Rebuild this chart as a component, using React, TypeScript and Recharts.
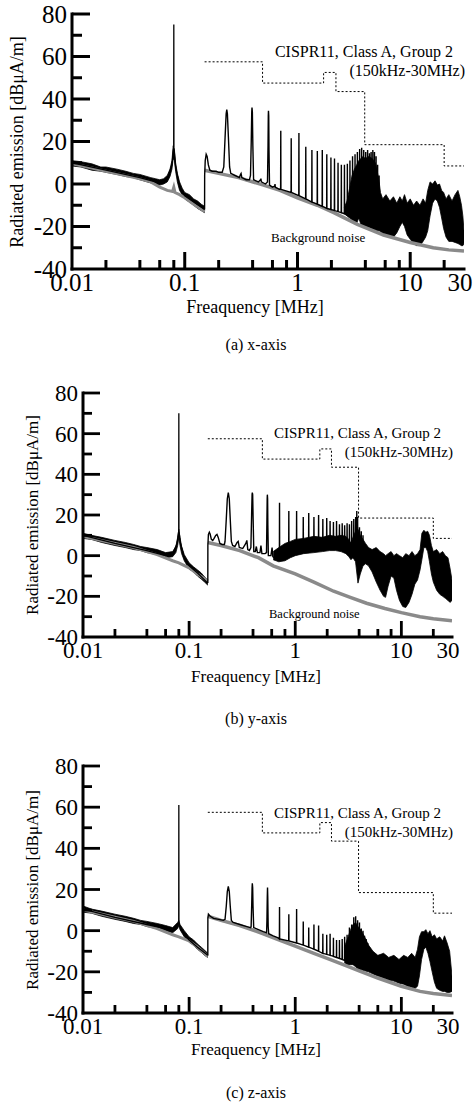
import React from 'react';
import { ComposedChart, Line, Area, XAxis, YAxis } from 'recharts';

type Pt = [number, number];
type Band = [number, number, number]; // f, low, high
type Spike = [number, number, number]; // f, base, peak

const FONT = "'Liberation Serif', 'Times New Roman', serif";

// ---------- (a) x-axis ----------
const xNoiseLow: Pt[] = [
  [0.01, 9.5], [0.015, 7.5], [0.02, 6], [0.03, 4], [0.04, 2.5], [0.05, 1], [0.06, -1.5],
  [0.07, -3], [0.078, -3.5], [0.08, -1.5], [0.082, -4], [0.09, -5], [0.1, -6.5], [0.12, -9.5], [0.15, -13],
];
const xNoiseHigh: Pt[] = [
  [0.15, 6.5], [0.2, 5], [0.3, 3], [0.5, -0.5], [0.7, -3], [1, -6.5], [1.5, -10], [2.1, -13.5],
  [3.4, -19], [5.8, -24], [10, -27.5], [16, -30], [22, -31], [30, -31.5],
];
const xLowBand: Band[] = [
  [0.01, 8.5, 11], [0.012, 8, 10.5], [0.015, 6.5, 9.5], [0.018, 6, 8], [0.02, 5.5, 8], [0.025, 4.5, 7],
  [0.03, 3.5, 6], [0.035, 3, 5], [0.04, 2, 4.5], [0.05, 0.5, 3], [0.055, 0, 2.5], [0.06, -0.5, 2],
  [0.065, 0, 2.5], [0.07, 1, 4], [0.074, 3.5, 7], [0.077, 7, 11], [0.079, 12, 18], [0.081, 11, 16],
  [0.083, 6, 10], [0.086, 1, 5], [0.09, -3, 1], [0.095, -5, -2], [0.1, -7, -4], [0.11, -8.5, -5],
  [0.12, -10, -7], [0.13, -11.5, -8], [0.14, -12.5, -9.5], [0.15, -13.5, -10.5],
];
const xLow: Pt[] = [
  [0.01, 10], [0.02, 6.5], [0.04, 3], [0.06, 0.5], [0.07, 2.5], [0.077, 9], [0.0798, 17], [0.08, 75],
  [0.0802, 17], [0.083, 8], [0.09, -1], [0.1, -5.5], [0.12, -8.5], [0.15, -12],
];
const xHigh: Pt[] = [
  [0.15, -12], [0.1502, 4], [0.152, 11], [0.155, 14], [0.158, 13], [0.162, 9], [0.167, 6.5], [0.175, 6],
  [0.19, 6], [0.2, 5.5], [0.215, 5.5], [0.222, 8], [0.228, 22], [0.233, 33], [0.236, 35], [0.239, 33],
  [0.244, 22], [0.25, 8], [0.256, 5], [0.28, 4], [0.305, 3], [0.312, 4.5], [0.316, 5], [0.321, 3],
  [0.35, 2], [0.375, 2], [0.383, 4], [0.389, 20], [0.393, 34], [0.395, 36], [0.398, 34], [0.402, 18],
  [0.408, 2], [0.45, 1], [0.47, 2], [0.474, 2.5], [0.478, 1], [0.52, 0], [0.542, 1], [0.548, 18],
  [0.551, 32], [0.553, 34.5], [0.556, 32], [0.559, 16], [0.565, -0.5], [0.6, -1.5], [0.628, -1],
  [0.632, 0], [0.636, -1.5], [0.69, -2.5],
];
const xSpikes: Spike[] = [
  [0.711, -2.5, 25], [0.88, -4, 21.5], [1.03, -5.5, 24], [1.185, -7, 17.5], [1.343, -8.5, 16],
  [1.5, -9.5, 15.5], [1.66, -10.5, 16], [1.82, -11.5, 14], [1.98, -12, 12.5], [2.13, -12.5, 12],
  [2.29, -13, 10], [2.45, -13.5, 9], [2.61, -14, 9], [2.77, -14.5, 9.5], [2.92, -15, 11], [3.08, -15.5, 13],
  [3.24, -16, 14], [3.4, -16, 15], [3.56, -16, 16.5], [3.71, -17, 17], [3.87, -17.5, 16], [4.03, -18, 15],
  [4.19, -18.5, 16], [4.35, -19, 14.5], [4.5, -19, 15], [4.66, -19.5, 16], [4.82, -20, 15], [4.98, -20, 13],
  [5.14, -20.5, 9], [5.3, -21, 4],
];
const xDense: Band[] = [
  [2.6, -14, -11], [2.75, -15, -8], [2.9, -16, -2], [3.05, -17, 4], [3.2, -18, 7], [3.35, -18.5, 9],
  [3.5, -16, 11], [3.65, -19, 12], [3.8, -19.5, 13], [4.0, -20, 12], [4.3, -20.5, 13], [4.6, -21, 12],
  [4.9, -21.5, 10], [5.1, -22, 6], [5.3, -22, 1], [5.45, -22.5, -4], [5.7, -23, -7], [6.1, -24, -5],
  [6.6, -24.5, -8], [7.1, -25, -6], [7.6, -23, -9], [8.1, -20, -6], [8.5, -18, -8], [8.9, -20, -5],
  [9.4, -24, -9], [10, -26, -7], [10.7, -28, -10], [11.4, -29, -8], [12.2, -29, -10], [13, -27, -7],
  [13.7, -25, -9], [14.3, -22, -3], [15, -15, 1], [15.8, -9, 0], [16.6, -7, 1.5], [17.4, -8, -0.5],
  [18.2, -11, 0], [19, -16, -3], [19.8, -21, -4], [20.8, -25, -7], [22, -27, -5], [23.5, -27, -8],
  [25, -27.5, -5], [26.5, -28, -3], [27.5, -28.5, -6], [28.5, -29, -10], [29.3, -29, -15], [30, -28, -22],
];

// ---------- (b) y-axis ----------
const yNoiseLow: Pt[] = [
  [0.01, 9.5], [0.02, 6], [0.03, 4], [0.05, 0.5], [0.07, -2.5], [0.08, -3.5], [0.1, -6], [0.12, -9], [0.15, -12.5],
];
const yNoiseHigh: Pt[] = [
  [0.15, 6.5], [0.2, 5], [0.3, 2.5], [0.45, -1], [0.62, -5], [1, -9], [1.5, -13], [2.3, -17.5],
  [3.3, -20.5], [4.7, -23.4], [7, -26], [10, -28], [15, -30], [20, -31], [30, -32],
];
const yLowBand: Band[] = [
  [0.01, 8.5, 11], [0.012, 8, 10], [0.015, 6.5, 9], [0.02, 5, 7.5], [0.025, 4, 6.5], [0.03, 3, 5.5],
  [0.035, 2.5, 4.5], [0.04, 1.5, 4], [0.05, 0.5, 3], [0.06, -1, 1.5], [0.07, -0.5, 2], [0.075, 1.5, 4.5],
  [0.078, 5, 9], [0.08, 9, 13], [0.082, 5, 9], [0.085, 1, 4.5], [0.09, -2.5, 0.5], [0.1, -6.5, -3.5],
  [0.11, -8, -5.5], [0.12, -10, -7], [0.13, -11.5, -8.5], [0.14, -13, -10.5], [0.15, -14.5, -12],
];
const yLow: Pt[] = [
  [0.01, 10], [0.02, 6], [0.04, 2.5], [0.06, 0], [0.07, 1], [0.077, 6], [0.0798, 12], [0.08, 70],
  [0.0802, 12], [0.083, 6], [0.09, -1], [0.1, -5], [0.12, -8.5], [0.15, -13.5],
];
const yHigh: Pt[] = [
  [0.15, -13.5], [0.1502, 5], [0.152, 10.5], [0.155, 11.5], [0.158, 10.5], [0.162, 8], [0.167, 7.5],
  [0.172, 8.5], [0.178, 10], [0.183, 10.5], [0.188, 9], [0.195, 6], [0.205, 5.5], [0.215, 5.5],
  [0.218, 7], [0.224, 18], [0.229, 28], [0.234, 31], [0.239, 28], [0.244, 18], [0.25, 7], [0.257, 5],
  [0.27, 4.5], [0.283, 6.5], [0.29, 7], [0.297, 4], [0.32, 3.5], [0.342, 6], [0.35, 7.5], [0.357, 3],
  [0.37, 2.5], [0.382, 4], [0.388, 20], [0.392, 30], [0.394, 31], [0.397, 30], [0.401, 18], [0.407, 2],
  [0.42, 2], [0.43, 4.5], [0.44, 1.5], [0.465, 1.5], [0.475, 5], [0.485, 1], [0.52, 1], [0.536, 1.5],
  [0.541, 18], [0.544, 28], [0.546, 30], [0.549, 28], [0.552, 15], [0.558, 0], [0.59, 0], [0.605, 4],
  [0.615, -0.5], [0.65, -1.5], [0.69, -2],
];
const ySpikes: Spike[] = [
  [0.711, 0, 26], [0.87, 4, 22], [1.03, 5, 22], [1.19, 6, 19], [1.34, 7, 21], [1.5, 7, 19],
  [1.66, 7.5, 20], [1.82, 7.5, 18], [1.98, 8, 18.5], [2.13, 8, 17], [2.29, 8, 16.5], [2.45, 8, 17],
  [2.61, 8, 15.5], [2.77, 8, 16], [2.92, 7.5, 15], [3.08, 7.5, 16], [3.24, 7, 15.5], [3.4, 4, 17],
  [3.56, 6, 18], [3.71, 7, 19], [3.8, 8, 22], [3.87, 7, 19], [4.03, 6, 14], [4.19, 5, 12], [4.35, 4, 10],
];
const yDense: Band[] = [
  [0.62, -2, 2], [0.7, -3, 4], [0.8, -2.5, 6], [0.9, -1, 7], [1.0, 0, 8], [1.2, 1, 8.5], [1.5, 1.5, 9.5],
  [1.8, 2, 9], [2.1, 2.5, 10], [2.4, 2.5, 9.5], [2.7, 2, 10], [3.0, 1, 9.5], [3.2, -0.5, 8], [3.35, -2, 6],
  [3.5, -1, 9], [3.7, -3, 12], [3.9, -13.5, 13], [4.1, -9, 10], [4.35, -5, 8], [4.6, -4, 6], [4.9, -5, 4],
  [5.3, -8, 3], [5.8, -13, 4], [6.3, -17, 2], [6.8, -20, 1], [7.1, -20.5, 0], [7.5, -15, 1], [8.0, -10, 2],
  [8.5, -11, 0], [9.0, -17, 1], [9.6, -22, 0], [10.3, -25, -1], [11, -25.5, 1], [11.8, -23, 0],
  [12.6, -19, 2], [13.4, -14, 0], [14.2, -12, 1], [15, -7, 3], [15.6, -2, 11], [16.3, 4, 12.5],
  [17, 4, 11.5], [17.7, 2, 12], [18.4, -3, 10], [19.2, -9, 5], [20, -13, 2], [21.5, -17, 3], [23, -19, 1],
  [24.5, -20, 2], [26, -21, 0], [27.5, -22, -1], [28.7, -23, -6], [30, -22, -12],
];

// ---------- (c) z-axis ----------
const zNoiseLow: Pt[] = [
  [0.01, 10], [0.02, 6.5], [0.03, 4.5], [0.05, 1], [0.07, -2], [0.08, -3], [0.1, -5], [0.12, -8], [0.15, -12.5],
];
const zNoiseHigh: Pt[] = [
  [0.15, 7], [0.2, 5], [0.3, 2.5], [0.5, -1.5], [0.7, -4.5], [1, -7.5], [1.5, -11], [2, -13.5],
  [3, -17], [4, -19.5], [6, -23], [10, -27], [15, -29.5], [20, -30.5], [30, -31.5],
];
const zLowBand: Band[] = [
  [0.01, 9, 12], [0.012, 8.5, 10.5], [0.015, 7, 9.5], [0.02, 5.5, 8], [0.025, 4.5, 7], [0.03, 3.5, 6],
  [0.035, 3, 5], [0.04, 2, 4.5], [0.05, 1, 3.5], [0.06, 0, 2.5], [0.07, -1, 1.5], [0.078, 1, 4],
  [0.08, 2.5, 5], [0.082, 0.5, 3], [0.09, -3, 0], [0.1, -5.5, -3], [0.11, -7, -4.5], [0.12, -9, -6.5],
  [0.13, -10.5, -8], [0.14, -12, -9.5], [0.15, -13, -11],
];
const zLow: Pt[] = [
  [0.01, 10.5], [0.02, 6.5], [0.04, 3], [0.06, 1], [0.07, 0], [0.078, 2.5], [0.0798, 4], [0.08, 61],
  [0.0802, 4], [0.082, 2], [0.09, -2], [0.1, -4.5], [0.12, -8], [0.15, -12],
];
const zHigh: Pt[] = [
  [0.15, -12], [0.1502, 6], [0.152, 8], [0.158, 7], [0.17, 6], [0.19, 5.5], [0.21, 5], [0.218, 5.5],
  [0.224, 12], [0.229, 19], [0.234, 21.5], [0.239, 19], [0.244, 12], [0.25, 5], [0.26, 4], [0.3, 3],
  [0.35, 2], [0.38, 1.5], [0.384, 2], [0.389, 13], [0.392, 21], [0.394, 23], [0.397, 21], [0.4, 12],
  [0.406, 1.5], [0.45, 0.5], [0.5, -0.5], [0.537, -1], [0.541, 5], [0.545, 16], [0.548, 21], [0.551, 16],
  [0.556, 2], [0.562, -1.5], [0.62, -2.5], [0.69, -3.5],
];
const zSpikes: Spike[] = [
  [0.711, -4, 11.5], [0.87, -5, 8], [1.03, -6, 10.5], [1.19, -7, 4.5], [1.34, -8, 1.5], [1.5, -9, 3],
  [1.66, -10, 2.5], [1.82, -11, -1.5], [1.98, -11.5, -2], [2.13, -12, -1.5], [2.29, -12.5, -3.5],
  [2.45, -13, -4.5], [2.61, -13.5, -4.5], [2.77, -14, -4], [2.92, -14.5, -3], [3.08, -15, -2],
  [3.24, -15, 1.5], [3.4, -14.5, 3], [3.56, -14, 6.5], [3.71, -15, 7], [3.87, -16, 5], [4.03, -16.5, 4],
  [4.19, -17, 1], [4.35, -17.5, 0], [4.5, -18, -2.5], [4.66, -18.5, -4], [4.82, -19, -6], [5, -19.5, -8],
];
const zDense: Band[] = [
  [2.9, -15.5, -8], [3.1, -16.5, -4], [3.3, -16.5, 0], [3.5, -16.5, 3], [3.7, -17.5, 4], [3.9, -18.5, 2],
  [4.2, -19, 0], [4.5, -19.5, -3], [4.9, -20, -7], [5.4, -21, -10], [6, -22, -12], [6.8, -23, -11],
  [7.6, -24, -13], [8.5, -24.5, -12], [9.5, -25.5, -14], [10.5, -26, -12], [11.5, -27, -13],
  [12.5, -27.5, -11], [13.5, -28, -13], [14.2, -27, -9], [14.8, -22, -3], [15.5, -14, -0.5],
  [16.3, -9, -0.5], [17, -8, 0.5], [17.8, -11, -1.5], [18.6, -15, 0], [19.5, -20, -3], [20.5, -25, -2],
  [21.5, -28, -4], [23, -29, -3], [24.5, -29.5, -5], [25.5, -29.5, -2.5], [27, -30, -6], [28.5, -30, -10],
  [30, -29.5, -22],
];

// CISPR11 Class A Group 2 limit (150kHz-30MHz)
const limit: Pt[] = [
  [0.15, 57.5], [0.49, 47.5], [1.705, 52.5], [2.194, 43.5], [3.95, 18.5], [20, 8.5], [30, 8.5],
];

const xTicks = [0.01, 0.02, 0.04, 0.06, 0.08, 0.1, 0.2, 0.4, 0.6, 0.8, 1, 2, 4, 6, 8, 10, 20, 30];
const xMajor = [0.1, 1, 10];
const xLabels = [0.01, 0.1, 1, 10, 30];
const yTicks = [-40, -30, -20, -10, 0, 10, 20, 30, 40, 50, 60, 70, 80];
const yLabels = [-40, -20, 0, 20, 40, 60, 80];

const pts = (a: Pt[]) => a.map(([f, v]) => ({ f, v }));
const band = (a: Band[]) => a.map(([f, lo, hi]) => ({ f, r: [lo, hi] }));
const spikes = (a: Spike[]) =>
  a.flatMap(([f, b, p]) => [
    { f: f * 0.997, v: b },
    { f, v: p },
    { f: f * 1.003, v: b },
  ]);

const panels = [
  {
    top: 0, margin: { top: 14, right: 9, left: 12, bottom: 21 }, font: 25, tw: 3,
    xMaj: 17, xMin: 9, yMaj: 18, yMin: 10, xLabDy: 22,
    noiseLow: xNoiseLow, noiseHigh: xNoiseHigh, lowBand: xLowBand, low: xLow, high: xHigh, sp: xSpikes, dense: xDense,
  },
  {
    top: 370, margin: { top: 23, right: 21, left: 23, bottom: 23 }, font: 23, tw: 2.8,
    xMaj: 16, xMin: 8, yMaj: 17, yMin: 9, xLabDy: 21,
    noiseLow: yNoiseLow, noiseHigh: yNoiseHigh, lowBand: yLowBand, low: yLow, high: yHigh, sp: ySpikes, dense: yDense,
  },
  {
    top: 745, margin: { top: 21, right: 21, left: 23, bottom: 22 }, font: 23, tw: 2.8,
    xMaj: 16, xMin: 8, yMaj: 17, yMin: 9, xLabDy: 21,
    noiseLow: zNoiseLow, noiseHigh: zNoiseHigh, lowBand: zLowBand, low: zLow, high: zHigh, sp: zSpikes, dense: zDense,
  },
];

type Cfg = (typeof panels)[number];

function XTick(props: any) {
  const { x, y, payload, cfg } = props;
  const v = payload.value;
  const len = xMajor.includes(v) ? cfg.xMaj : v > 0.01 && v < 30 ? cfg.xMin : 0;
  // the last label sits against the right edge, as in the original
  const lx = v === 30 ? x - 4 : x;
  return (
    <g>
      {len > 0 && <line x1={x} x2={x} y1={y} y2={y - len} stroke="#000" strokeWidth={cfg.tw} />}
      {xLabels.includes(v) && (
        <text x={lx} y={y + cfg.xLabDy} textAnchor="middle" fontSize={cfg.font} fontFamily={FONT} style={{ fontFamily: FONT }} fill="#000">
          {String(v)}
        </text>
      )}
    </g>
  );
}

function YTick(props: any) {
  const { x, y, payload, cfg } = props;
  const v = payload.value;
  const labeled = yLabels.includes(v);
  const len = v === -40 ? 0 : labeled ? cfg.yMaj : cfg.yMin;
  return (
    <g>
      {len > 0 && <line x1={x} x2={x + len} y1={y} y2={y} stroke="#000" strokeWidth={cfg.tw} />}
      {labeled && (
        <text x={x - 5} y={y} dy="0.35em" textAnchor="end" fontSize={cfg.font} fontFamily={FONT} style={{ fontFamily: FONT }} fill="#000">
          {String(v)}
        </text>
      )}
    </g>
  );
}

function Panel({ cfg }: { cfg: Cfg }) {
  return (
    <div style={{ position: 'absolute', left: 0, top: cfg.top }}>
      <ComposedChart width={473} height={330} margin={cfg.margin}>
        <XAxis
          dataKey="f"
          type="number"
          scale="log"
          domain={[0.01, 30]}
          allowDataOverflow
          ticks={xTicks}
          interval={0}
          tickSize={0}
          tickMargin={0}
          tickLine={false}
          height={40}
          axisLine={{ stroke: '#000', strokeWidth: 3, strokeLinecap: 'square' }}
          tick={(p: any) => <XTick {...p} cfg={cfg} />}
        />
        <YAxis
          type="number"
          domain={[-40, 80]}
          allowDataOverflow
          ticks={yTicks}
          interval={0}
          tickSize={0}
          tickMargin={0}
          tickLine={false}
          width={60}
          axisLine={{ stroke: '#000', strokeWidth: 3, strokeLinecap: 'square' }}
          tick={(p: any) => <YTick {...p} cfg={cfg} />}
        />
        <Line data={pts(cfg.noiseLow)} dataKey="v" stroke="#8a8a8a" strokeWidth={3} dot={false} isAnimationActive={false} />
        <Line data={pts(cfg.noiseHigh)} dataKey="v" stroke="#8a8a8a" strokeWidth={3.5} dot={false} isAnimationActive={false} />
        <Area data={band(cfg.lowBand)} dataKey="r" stroke="#000" strokeWidth={0.8} fill="#000" fillOpacity={1} isAnimationActive={false} />
        <Area data={band(cfg.dense)} dataKey="r" stroke="#000" strokeWidth={0.8} fill="#000" fillOpacity={1} isAnimationActive={false} />
        <Line data={pts(cfg.low)} dataKey="v" stroke="#000" strokeWidth={1.3} dot={false} isAnimationActive={false} />
        <Line
          data={[...pts(cfg.high), ...spikes(cfg.sp)]}
          dataKey="v"
          stroke="#000"
          strokeWidth={1.4}
          dot={false}
          isAnimationActive={false}
        />
        <Line
          data={pts(limit)}
          dataKey="v"
          type="stepAfter"
          stroke="#000"
          strokeWidth={1}
          strokeDasharray="2 2"
          dot={false}
          isAnimationActive={false}
        />
      </ComposedChart>
    </div>
  );
}

const notes = [
  { t: 'Radiated emission [dBμA/m]', x: 17, y: 142, s: 18, rot: true },
  { t: 'Freaquency [MHz]', x: 255, y: 313, s: 18 },
  { t: '(a) x-axis', x: 256, y: 350, s: 16 },
  { t: 'CISPR11, Class A, Group 2', x: 453, y: 57, s: 16, a: 'end' },
  { t: '(150kHz-30MHz)', x: 465, y: 76, s: 16, a: 'end' },
  { t: 'Background noise', x: 271, y: 242, s: 13, a: 'start' },
  { t: 'Radiated emission [dBμA/m]', x: 32, y: 515, s: 17, rot: true },
  { t: 'Freaquency [MHz]', x: 256, y: 682, s: 17 },
  { t: '(b) y-axis', x: 256, y: 724, s: 16 },
  { t: 'CISPR11, Class A, Group 2', x: 441, y: 438, s: 15, a: 'end' },
  { t: '(150kHz-30MHz)', x: 453, y: 457, s: 15, a: 'end' },
  { t: 'Background noise', x: 269, y: 618, s: 12.5, a: 'start' },
  { t: 'Radiated emission [dBμA/m]', x: 32, y: 890, s: 17, rot: true },
  { t: 'Freaquency [MHz]', x: 256, y: 1055, s: 17 },
  { t: '(c) z-axis', x: 256, y: 1098, s: 16 },
  { t: 'CISPR11, Class A, Group 2', x: 441, y: 818, s: 15, a: 'end' },
  { t: '(150kHz-30MHz)', x: 453, y: 837, s: 15, a: 'end' },
];

export default function App() {
  return (
    <div style={{ position: 'absolute', left: 0, top: 0, width: 473, height: 1106, background: '#fff' }}>
      {panels.map((cfg, i) => (
        <Panel key={i} cfg={cfg} />
      ))}
      <svg
        width={473}
        height={1106}
        style={{ position: 'absolute', left: 0, top: 0, pointerEvents: 'none', fontFamily: FONT }}
      >
        {notes.map((n, i) =>
          n.rot ? (
            <text
              key={i}
              transform={`translate(${n.x},${n.y}) rotate(-90)`}
              textAnchor="middle"
              dy="0.35em"
              fontSize={n.s}
              fill="#000"
            >
              {n.t}
            </text>
          ) : (
            <text key={i} x={n.x} y={n.y} textAnchor={n.a ?? 'middle'} fontSize={n.s} fill="#000">
              {n.t}
            </text>
          )
        )}
      </svg>
    </div>
  );
}
